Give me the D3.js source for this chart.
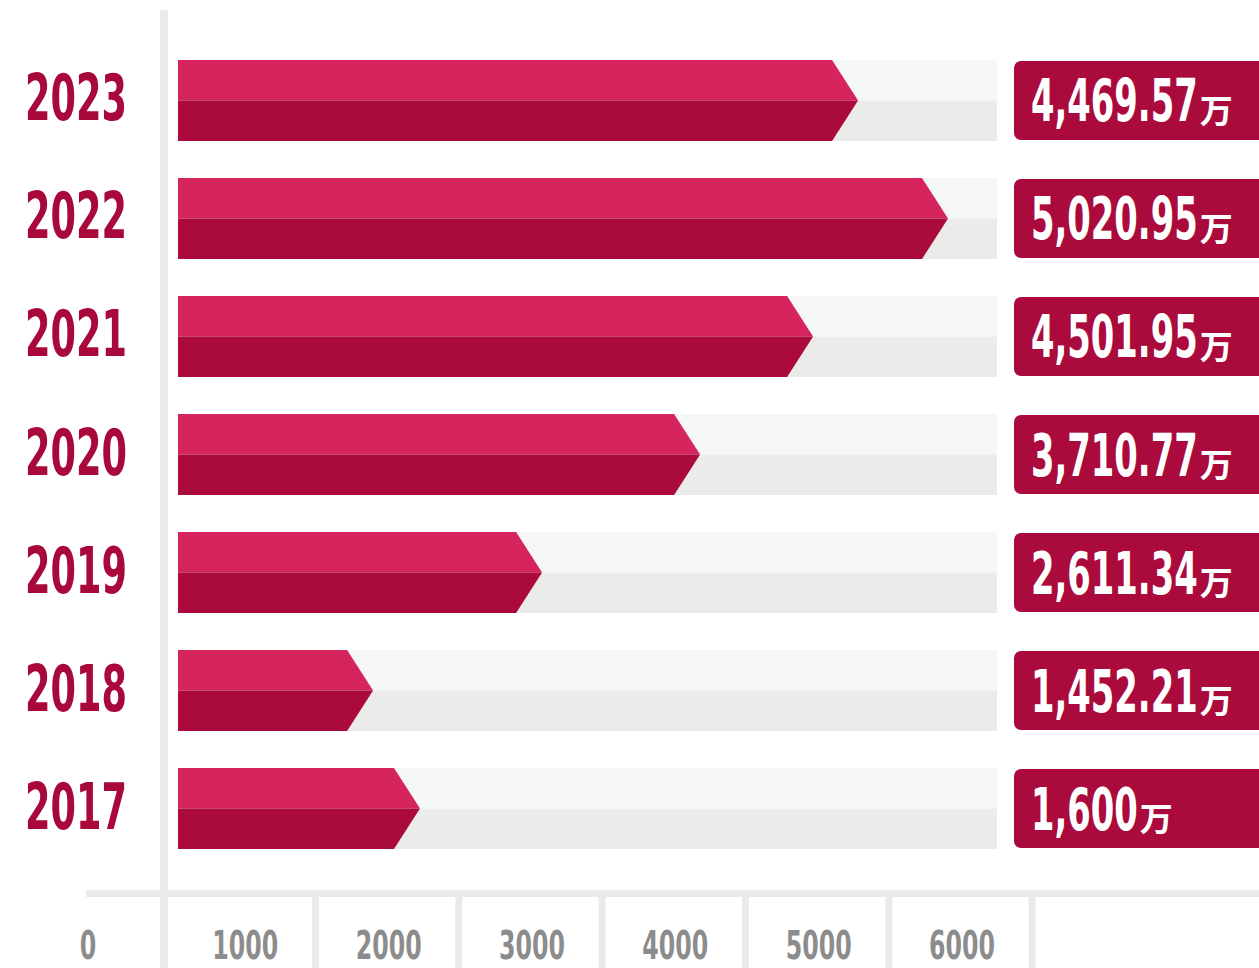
<!DOCTYPE html>
<html>
<head>
<meta charset="utf-8">
<script src="https://cdn.jsdelivr.net/npm/d3@7/dist/d3.min.js"></script>
<style>
  html, body { margin: 0; padding: 0; background: #ffffff; overflow: hidden; }
  svg { display: block; }
  .num { font-family: "DejaVu Sans Condensed", "DejaVu Sans", sans-serif; font-stretch: condensed; font-weight: bold; }
  .cjk { font-family: "Noto Sans CJK SC", sans-serif; font-weight: 700; }
</style>
</head>
<body>
<svg id="chart" width="1259" height="968"></svg>
<script>
// ---- data ----
const years = ["2023", "2022", "2021", "2020", "2019", "2018", "2017"];
const valueLabels = ["4,469.57", "5,020.95", "4,501.95", "3,710.77", "2,611.34", "1,452.21", "1,600"];
const unitLabel = "万";
// bar lengths as they are drawn in the picture (万, on the bar track scale 0–5500)
const barLengths = [4567, 5171, 4265, 3506, 2445, 1310, 1625];
const trackMax = [5500];
const tickValues = [0, 1000, 2000, 3000, 4000, 5000, 6000];

// ---- layout ----
const W = 1259, H = 968;
const svg = d3.select("#chart");

const colLight = "#d6245c", colDark = "#ab0a3c";
const trackTop = "#f5f6f8", trackBot = "#ebebe9";
const lineCol = "#eaeae8";

const y = d3.scaleBand().domain(years).range([60, 849]).paddingInner(0.3136).paddingOuter(0);
const x = d3.scaleLinear().domain([0, trackMax[0]]).range([178, 997]);
const tx = d3.scaleLinear().domain([0, 6000]).range([102, 962]);

const bw = y.bandwidth();
const tip = 26;

// horizontal-squeeze factor so that one digit has the wanted advance
function squeeze(fontSize, digitAdvance) {
  const t = svg.append("text").attr("class", "num").attr("font-size", fontSize).text("0000");
  const w = t.node().getComputedTextLength();
  t.remove();
  return (digitAdvance * 4) / w;
}

// axis lines
svg.append("rect").attr("x", 160).attr("y", 10).attr("width", 8).attr("height", H - 10).attr("fill", lineCol);
svg.append("rect").attr("x", 86).attr("y", 890).attr("width", W - 86).attr("height", 7).attr("fill", lineCol);

// bottom separators between tick labels
svg.append("g").selectAll("rect").data(tickValues.slice(1)).join("rect")
  .attr("x", d => tx(d + 500) - 5).attr("y", 897).attr("width", 7).attr("height", H - 897)
  .attr("fill", lineCol);

// tick labels
const sTick = squeeze(39, 16.5);
svg.append("g").selectAll("text").data(tickValues).join("text")
  .attr("class", "num")
  .attr("transform", d => `translate(${d === 0 ? tx(d) - 14 : tx(d)},959) scale(${sTick},1)`)
  .attr("text-anchor", "middle")
  .attr("font-size", 39)
  .attr("fill", "#8c8c8c")
  .text(d => d);

const rows = svg.append("g").selectAll("g").data(years).join("g")
  .attr("transform", d => `translate(0,${y(d)})`);

// tracks
rows.append("rect").attr("x", x(0)).attr("y", 0).attr("width", x(trackMax[0]) - x(0)).attr("height", bw / 2).attr("fill", trackTop);
rows.append("rect").attr("x", x(0)).attr("y", bw / 2).attr("width", x(trackMax[0]) - x(0)).attr("height", bw / 2).attr("fill", trackBot);

// bars: top (light) and bottom (dark) halves with chevron tip
rows.append("path").attr("fill", colLight)
  .attr("d", (d, i) => {
    const xe = x(barLengths[i]);
    return `M${x(0)},0 L${xe - tip},0 L${xe},${bw / 2} L${x(0)},${bw / 2} Z`;
  });
rows.append("path").attr("fill", colDark)
  .attr("d", (d, i) => {
    const xe = x(barLengths[i]);
    return `M${x(0)},${bw / 2} L${xe},${bw / 2} L${xe - tip},${bw} L${x(0)},${bw} Z`;
  });

// year labels
const sYear = squeeze(64, 25.5);
rows.append("text")
  .attr("class", "num")
  .attr("transform", `translate(25,${bw / 2 + 20}) scale(${sYear},1)`)
  .attr("font-size", 64)
  .attr("fill", "#a8093a")
  .text(d => d);

// value boxes
rows.append("rect")
  .attr("x", 1014).attr("y", bw / 2 - 39.5).attr("width", 280).attr("height", 79)
  .attr("rx", 7).attr("fill", colDark);

const sVal = squeeze(58, 23.5);
rows.each(function (d, i) {
  const g = d3.select(this);
  const t = g.append("text")
    .attr("class", "num")
    .attr("transform", `translate(1031,${bw / 2 + 21}) scale(${sVal},1)`)
    .attr("font-size", 58)
    .attr("fill", "#ffffff")
    .text(valueLabels[i]);
  const w = t.node().getComputedTextLength() * sVal;
  g.append("text")
    .attr("class", "cjk")
    .attr("x", 1031 + w + 2)
    .attr("y", bw / 2 + 23)
    .attr("font-size", 33)
    .attr("fill", "#ffffff")
    .text(unitLabel);
});
</script>
</body>
</html>
